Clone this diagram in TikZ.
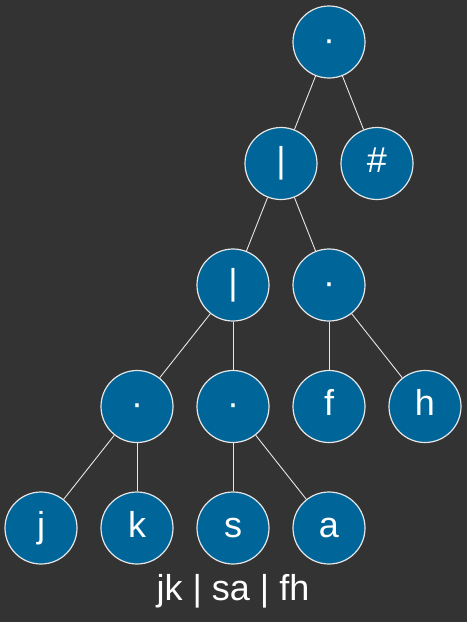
\documentclass[tikz,border=0pt]{standalone}
\usepackage{fontspec}
\setmainfont{Liberation Sans}
\usepackage{xcolor}
\usepackage{tikz}
\usetikzlibrary{calc, positioning}

\definecolor{nenxam}{HTML}{333333}
\definecolor{xanhnut}{HTML}{006699}
\definecolor{vien}{HTML}{E6E6E6}

\begin{document}
\begin{tikzpicture}[x=1pt, y=-1pt,
    nut/.style={circle, fill=xanhnut, draw=vien, line width=1.2pt,
        minimum size=72pt, inner sep=0pt, text=white,
        font=\fontsize{36}{40}\selectfont, text height=25pt, text depth=7pt},
    canh/.style={draw=vien, line width=0.9pt}]
    % Nền xám đậm
    \fill[nenxam] (0,0) rectangle (467,622);
    \useasboundingbox (0,0) rectangle (467,622);

    % Các nút của cây theo từng tầng
    \node[nut] (goc) at (329,42) {·};
    \node[nut] (vachA) at (281,163.5) {|};
    \node[nut] (thang) at (377,163.5) {\#};
    \node[nut] (vachB) at (233,285) {|};
    \node[nut] (chamA) at (329,285) {·};
    \node[nut] (chamB) at (137,406.5) {·};
    \node[nut] (chamC) at (233,406.5) {·};
    \node[nut] (f) at (329,406.5) {f};
    \node[nut] (h) at (425,406.5) {h};
    \node[nut] (j) at (41,528) {j};
    \node[nut] (k) at (137,528) {k};
    \node[nut] (s) at (233,528) {s};
    \node[nut] (a) at (329,528) {a};

    % Các cạnh nối
    \draw[canh] (goc) -- (vachA);
    \draw[canh] (goc) -- (thang);
    \draw[canh] (vachA) -- (vachB);
    \draw[canh] (vachA) -- (chamA);
    \draw[canh] (vachB) -- (chamB);
    \draw[canh] (vachB) -- (chamC);
    \draw[canh] (chamA) -- (f);
    \draw[canh] (chamA) -- (h);
    \draw[canh] (chamB) -- (j);
    \draw[canh] (chamB) -- (k);
    \draw[canh] (chamC) -- (s);
    \draw[canh] (chamC) -- (a);

    % Biểu thức bên dưới
    \node[anchor=base, text=white, font=\fontsize{36}{40}\selectfont, inner sep=0pt]
        (bieuthuc) at (233,600) {jk | sa | fh};
\end{tikzpicture}
\end{document}
